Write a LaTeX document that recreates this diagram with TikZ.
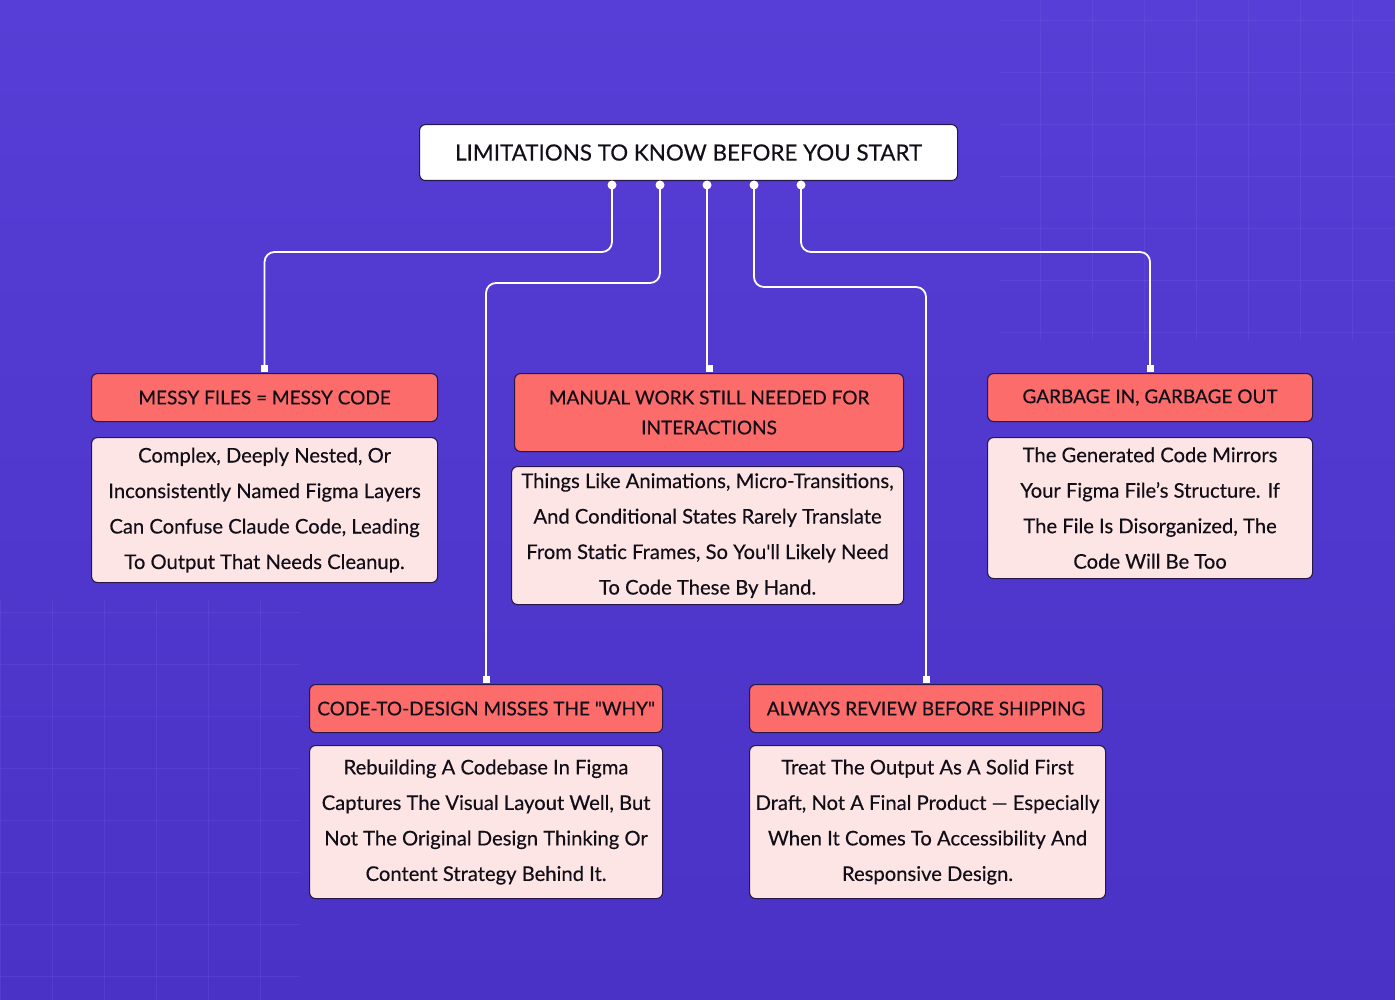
\documentclass[tikz,border=0pt]{standalone}
\usepackage{fontspec}
\setmainfont{Lato}[Ligatures=TeXOff, FakeBold=0.35]
\usetikzlibrary{calc}
\definecolor{bgtop}{RGB}{86,62,214}
\definecolor{bgbot}{RGB}{74,50,198}
\definecolor{gridc}{RGB}{130,112,235}
\definecolor{headfill}{RGB}{252,108,106}
\definecolor{bodyfill}{RGB}{253,229,229}
\definecolor{boxline}{RGB}{40,24,70}
\definecolor{inkc}{RGB}{18,14,24}
\tikzset{
  titlebox/.style={draw=boxline, line width=1.1pt, fill=white, rounded corners=6pt,
    anchor=north west, inner sep=0pt, text=inkc, align=center,
    font=\fontsize{22.4}{28}\selectfont},
  headbox/.style={draw=boxline, line width=1.1pt, fill=headfill, rounded corners=6pt,
    anchor=north west, inner sep=0pt, text=inkc, align=center,
    font=\fontsize{19}{30}\selectfont},
  bodybox/.style={draw=boxline, line width=1.1pt, fill=bodyfill, rounded corners=6pt,
    anchor=north west, inner sep=0pt, text=inkc, align=center,
    font=\fontsize{20.2}{35.5}\selectfont},
  wire/.style={draw=white, line width=1.8pt, rounded corners=10pt},
  dotc/.style={circle, fill=white, inner sep=0pt, minimum size=9pt},
  gridl/.style={draw=gridc, opacity=0.18, line width=0.8pt},
}
\newcommand{\wiretab}[1]{\fill[white] ([xshift=-3.5pt,yshift=1.5pt]#1) rectangle ++(7,-7);}
\begin{document}
\begin{tikzpicture}[x=1pt,y=-1pt]
\useasboundingbox (0,0) rectangle (1395,1000);
\shade[top color=bgtop, bottom color=bgbot] (0,0) rectangle (1395,1000);
% faint grid
\begin{scope}
\clip (1000,0) rectangle (1395,340);
\foreach \gx in {1040,1092,...,1400} {\draw[gridl] (\gx,0) -- (\gx,340);}
\foreach \gy in {20,72,...,340} {\draw[gridl] (1000,\gy) -- (1395,\gy);}
\end{scope}
\begin{scope}
\clip (0,600) rectangle (300,1000);
\foreach \gx in {0,52,...,300} {\draw[gridl] (\gx,600) -- (\gx,1000);}
\foreach \gy in {612,664,...,1000} {\draw[gridl] (0,\gy) -- (300,\gy);}
\end{scope}

% title
\node[titlebox, minimum width=538pt, minimum height=56pt] (title) at (419,124)
  {LIMITATIONS TO KNOW BEFORE YOU START};

% headers
\node[headbox, minimum width=346pt, minimum height=48pt] (h1) at (91,373) {MESSY FILES = MESSY CODE};
\node[headbox, minimum width=389pt, minimum height=78pt] (h2) at (514,373) {MANUAL WORK STILL NEEDED FOR\\INTERACTIONS};
\node[headbox, minimum width=325pt, minimum height=48pt] (h3) at (987,373) {GARBAGE IN, GARBAGE OUT};
\node[headbox, minimum width=353pt, minimum height=48pt] (h4) at (309,684) {CODE-TO-DESIGN MISSES THE "WHY"};
\node[headbox, minimum width=353pt, minimum height=48pt] (h5) at (749,684) {ALWAYS REVIEW BEFORE SHIPPING};

% bodies
\node[bodybox, minimum width=346pt, minimum height=145pt] (b1) at (91,437)
  {Complex, Deeply Nested, Or\\Inconsistently Named Figma Layers\\Can Confuse Claude Code, Leading\\To Output That Needs Cleanup.};
\node[bodybox, minimum width=392pt, minimum height=138pt] (b2) at (511,466)
  {Things Like Animations, Micro-Transitions,\\And Conditional States Rarely Translate\\From Static Frames, So You'll Likely Need\\To Code These By Hand.};
\node[bodybox, minimum width=325pt, minimum height=141pt] (b3) at (987,437)
  {The Generated Code Mirrors\\Your Figma File’s Structure. If\\The File Is Disorganized, The\\Code Will Be Too};
\node[bodybox, minimum width=353pt, minimum height=153pt] (b4) at (309,745)
  {Rebuilding A Codebase In Figma\\Captures The Visual Layout Well, But\\Not The Original Design Thinking Or\\Content Strategy Behind It.};
\node[bodybox, minimum width=356pt, minimum height=153pt] (b5) at (749,745)
  {Treat The Output As A Solid First\\Draft, Not A Final Product — Especially\\When It Comes To Accessibility And\\Responsive Design.};

% dots
\node[dotc] (d1) at (612,185) {};
\node[dotc] (d2) at (660,185) {};
\node[dotc] (d3) at (707,185) {};
\node[dotc] (d4) at (754,185) {};
\node[dotc] (d5) at (801,185) {};

% wires
\draw[wire] (d1.center) -- ++(0,67) -| ([yshift=2pt]h1.north);
\draw[wire] (d2.center) -- ++(0,98) -| ([yshift=2pt]h4.north);
\draw[wire] (d3.center) -- ([yshift=2pt]d3.center |- h2.north);
\draw[wire] (d4.center) -- ++(0,102) -| ([yshift=2pt]h5.north);
\draw[wire] (d5.center) -- ++(0,67) -| ([yshift=2pt]h3.north);

\wiretab{h1.north}
\wiretab{h2.north}
\wiretab{h3.north}
\wiretab{h4.north}
\wiretab{h5.north}
\end{tikzpicture}
\end{document}
